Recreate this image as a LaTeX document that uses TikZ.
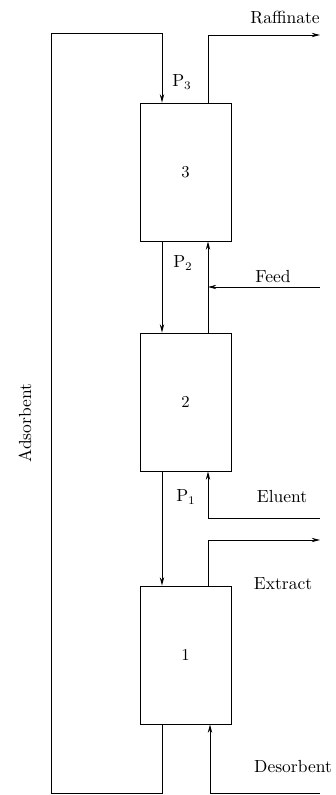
\documentclass[tikz,border=0pt]{standalone}
\usetikzlibrary{arrows.meta,calc}
\begin{document}
\begin{tikzpicture}[x=0.6pt,y=-0.6pt,
  line width=0.5pt,
  column/.style={draw,rectangle,minimum width=54.6pt,minimum height=82.8pt,inner sep=0pt},
  flow/.style={-{Stealth[length=5pt,width=2.6pt]}},
  lbl/.style={inner sep=0pt,font=\fontsize{10.5}{12}\selectfont}]
\useasboundingbox (0,0) rectangle (335,795);

% the three column sections
\node[column] (b3) at (185.5,172) {3};
\node[column] (b2) at (185.5,402) {2};
\node[column] (b1) at (185.5,655) {1};

% vertical lines for the down (L) and up (R) flows
\coordinate (L) at (162,0);
\coordinate (R) at (208,0);
\coordinate (lb) at (51,793);
\coordinate (lt) at (51,33);
\coordinate (raf) at (320,35);
\coordinate (feed) at (320,287);
\coordinate (elu) at (320,518);
\coordinate (ext) at (320,540);
\coordinate (des) at (320,793);

% adsorbent recycle loop
\draw[flow] (b1.south -| L) -- (L |- lb) -- (lb) -- (lt) -- (lt -| L) -- (b3.north -| L);

% liquid streams between sections
\draw[flow] (b3.south -| L) -- (b2.north -| L);
\draw[flow] (b2.south -| L) -- (b1.north -| L);
\draw[flow] (b2.north -| R) -- (b3.south -| R);

% inlets and outlets
\draw[flow] (b3.north -| R) -- (R |- raf) -- (raf);
\draw[flow] (feed) -- (feed -| R);
\draw[flow] (elu) -- (elu -| R) -- (b2.south -| R);
\draw[flow] (b1.north -| R) -- (R |- ext) -- (ext);
\draw[flow] (des) -- ($(des -| R)+(2,0)$) -- ($(b1.south -| R)+(2,0)$);

% labels
\node[lbl] (tr) at (285,18) {Raffinate};
\node[lbl] (tf) at (273,277) {Feed};
\node[lbl] (te) at (282,497) {Eluent};
\node[lbl] (tx) at (283,584) {Extract};
\node[lbl] (td) at (293,767) {Desorbent};
\node[lbl,rotate=90] (ta) at (25,423) {Adsorbent};
\node[lbl] (p3) at (182,82) {P$_3$};
\node[lbl] (p2) at (183,263) {P$_2$};
\node[lbl] (p1) at (186,497) {P$_1$};
\end{tikzpicture}
\end{document}
